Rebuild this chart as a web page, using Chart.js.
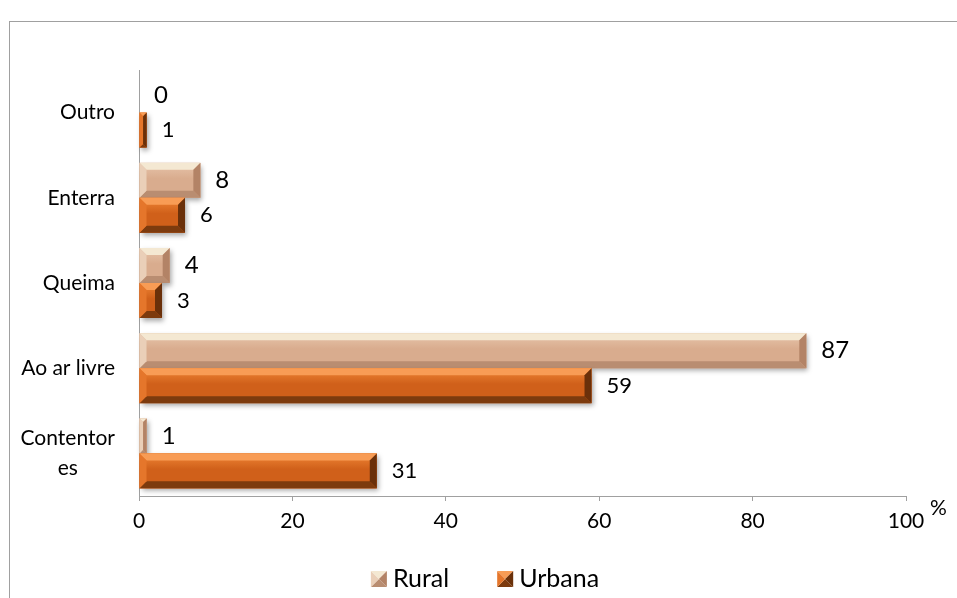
<!DOCTYPE html>
<html>
<head>
<meta charset="utf-8">
<script src="https://cdn.jsdelivr.net/npm/chart.js@4.4.1/dist/chart.umd.min.js"></script>
<style>
  html, body { margin: 0; padding: 0; background: #ffffff; }
  #wrap { position: relative; width: 957px; height: 598px; overflow: hidden; }
  #frame { position: absolute; left: 9px; top: 21px; width: 1000px; height: 700px; border: 1px solid #a0a0a0; box-sizing: border-box; }
  canvas { position: absolute; left: 0; top: 0; }
</style>
</head>
<body>
<div id="wrap">
  <div id="frame"></div>
  <canvas id="c" width="957" height="598"></canvas>
</div>
<script>
// ---- data ----
const categories = [["Outro"], ["Enterra"], ["Queima"], ["Ao ar livre"], ["Contentor", "es"]];
const ruralValues = [0, 8, 4, 87, 1];
const urbanaValues = [1, 6, 3, 59, 31];
const seriesNames = ["Rural", "Urbana"];
const xTicks = [0, 20, 40, 60, 80, 100];
const unitLabel = "%";

const FONT = "Lato, 'Open Sans', sans-serif";

const palettes = [
  { face: "#d9ac8e", faceTop: "#e7c5ab", top: "#f4e8d2", bottom: "#b98d71", left: "#eacfb8", right: "#b38366", label: 24 },
  { face: "#d0601a", faceTop: "#f08636", top: "#f89c55", bottom: "#7d3b0e", left: "#e5762b", right: "#6a300a", label: 22 }
];

function bevelRect(ctx, l, t, r, bt, p) {
  const w = r - l, h = bt - t;
  if (w <= 0 || h <= 0) return;
  const b = Math.min(7, w / 2, h / 2);
  const g = ctx.createLinearGradient(0, t, 0, bt);
  g.addColorStop(0, p.faceTop);
  g.addColorStop(0.45, p.face);
  g.addColorStop(1, p.face);
  ctx.fillStyle = g;
  ctx.fillRect(l, t, w, h);
  const poly = (pts, col) => {
    ctx.beginPath();
    ctx.moveTo(pts[0][0], pts[0][1]);
    for (let i = 1; i < pts.length; i++) ctx.lineTo(pts[i][0], pts[i][1]);
    ctx.closePath();
    ctx.fillStyle = col;
    ctx.fill();
  };
  poly([[l, t], [r, t], [r - b, t + b], [l + b, t + b]], p.top);
  poly([[l, bt], [r, bt], [r - b, bt - b], [l + b, bt - b]], p.bottom);
  poly([[l, t], [l + b, t + b], [l + b, bt - b], [l, bt]], p.left);
  poly([[r, t], [r - b, t + b], [r - b, bt - b], [r, bt]], p.right);
}

const bevelPlugin = {
  id: "bevel",
  afterDatasetsDraw(chart) {
    const ctx = chart.ctx;
    chart.data.datasets.forEach((ds, i) => {
      const meta = chart.getDatasetMeta(i);
      const p = palettes[i];
      meta.data.forEach((el, j) => {
        const l = Math.min(el.base, el.x), r = Math.max(el.base, el.x);
        const t = el.y - el.height / 2, bt = el.y + el.height / 2;
        if (r - l > 0.5) {
          ctx.save();
          ctx.shadowColor = "rgba(0,0,0,0.35)";
          ctx.shadowBlur = 5;
          ctx.shadowOffsetX = 2;
          ctx.shadowOffsetY = 3;
          ctx.fillStyle = p.face;
          ctx.fillRect(l, t, r - l, bt - t);
          ctx.restore();
          ctx.save();
          bevelRect(ctx, l, t, r, bt, p);
          ctx.restore();
        }
        ctx.save();
        ctx.font = p.label + "px " + FONT;
        ctx.fillStyle = "#000000";
        ctx.textAlign = "left";
        ctx.textBaseline = "middle";
        ctx.fillText(String(ds.data[j]), r + 15, el.y);
        ctx.restore();
      });
    });
  }
};

const labelPlugin = {
  id: "extraText",
  afterDraw(chart) {
    const ctx = chart.ctx;
    const ys = chart.scales.y;
    const xs = chart.scales.x;
    ctx.save();
    ctx.font = "21px " + FONT;
    ctx.fillStyle = "#000000";
    ctx.textBaseline = "middle";
    ctx.textAlign = "center";
    const rightEdge = chart.chartArea.left - 24;
    const lh = 30;
    categories.forEach((lines, i) => {
      const cy = ys.getPixelForValue(i);
      const maxW = Math.max(...lines.map(s => ctx.measureText(s).width));
      const cx = rightEdge - maxW / 2;
      lines.forEach((s, k) => {
        ctx.fillText(s, cx, cy + (k - (lines.length - 1) / 2) * lh);
      });
    });
    ctx.textAlign = "left";
    ctx.fillText(unitLabel, xs.right + 24, xs.top + 12);
    ctx.restore();

    // legend
    ctx.save();
    ctx.font = "25px " + FONT;
    ctx.textBaseline = "middle";
    const box = 16, gapBox = 6, gapItem = 48;
    const widths = seriesNames.map(n => box + gapBox + ctx.measureText(n).width);
    const total = widths.reduce((a, b) => a + b, 0) + gapItem * (seriesNames.length - 1);
    let x = 485 - total / 2;
    const ly = 579;
    seriesNames.forEach((n, i) => {
      const p = palettes[i];
      const l = x, t = ly - box / 2;
      const c = [l + box / 2, t + box / 2];
      const tri = (a, b, col) => {
        ctx.beginPath(); ctx.moveTo(a[0], a[1]); ctx.lineTo(b[0], b[1]); ctx.lineTo(c[0], c[1]); ctx.closePath();
        ctx.fillStyle = col; ctx.fill();
      };
      tri([l, t], [l + box, t], p.top);
      tri([l + box, t], [l + box, t + box], p.right);
      tri([l, t + box], [l + box, t + box], p.bottom);
      tri([l, t], [l, t + box], p.left);
      ctx.fillStyle = "#000000";
      ctx.textAlign = "left";
      ctx.fillText(n, l + box + gapBox, ly);
      x += widths[i] + gapItem;
    });
    ctx.restore();
  }
};

new Chart(document.getElementById("c"), {
  type: "bar",
  data: {
    labels: categories.map(c => c.join("")),
    datasets: [
      { label: seriesNames[0], data: ruralValues, backgroundColor: "rgba(0,0,0,0)", borderWidth: 0 },
      { label: seriesNames[1], data: urbanaValues, backgroundColor: "rgba(0,0,0,0)", borderWidth: 0 }
    ]
  },
  options: {
    indexAxis: "y",
    responsive: false,
    animation: false,
    events: [],
    layout: { padding: { top: 70, right: 51, bottom: 40, left: 0 } },
    datasets: { bar: { categoryPercentage: 0.82, barPercentage: 1.0 } },
    plugins: { legend: { display: false }, tooltip: { enabled: false } },
    scales: {
      x: {
        min: 0, max: 100,
        afterBuildTicks(scale) { scale.ticks = xTicks.map(v => ({ value: v })); },
        afterFit(scale) { scale.height = 62; },
        ticks: { font: { family: FONT, size: 21 }, color: "#000000", padding: 8 },
        grid: { display: true, drawOnChartArea: false, drawTicks: true, tickLength: 5, color: "#a0a0a0" },
        border: { display: true, color: "#a0a0a0" }
      },
      y: {
        afterFit(scale) { scale.width = 139; },
        ticks: { font: { family: FONT, size: 21 }, color: "rgba(0,0,0,0)" },
        grid: { display: false },
        border: { display: true, color: "#a0a0a0" }
      }
    }
  },
  plugins: [bevelPlugin, labelPlugin]
});
</script>
</body>
</html>
